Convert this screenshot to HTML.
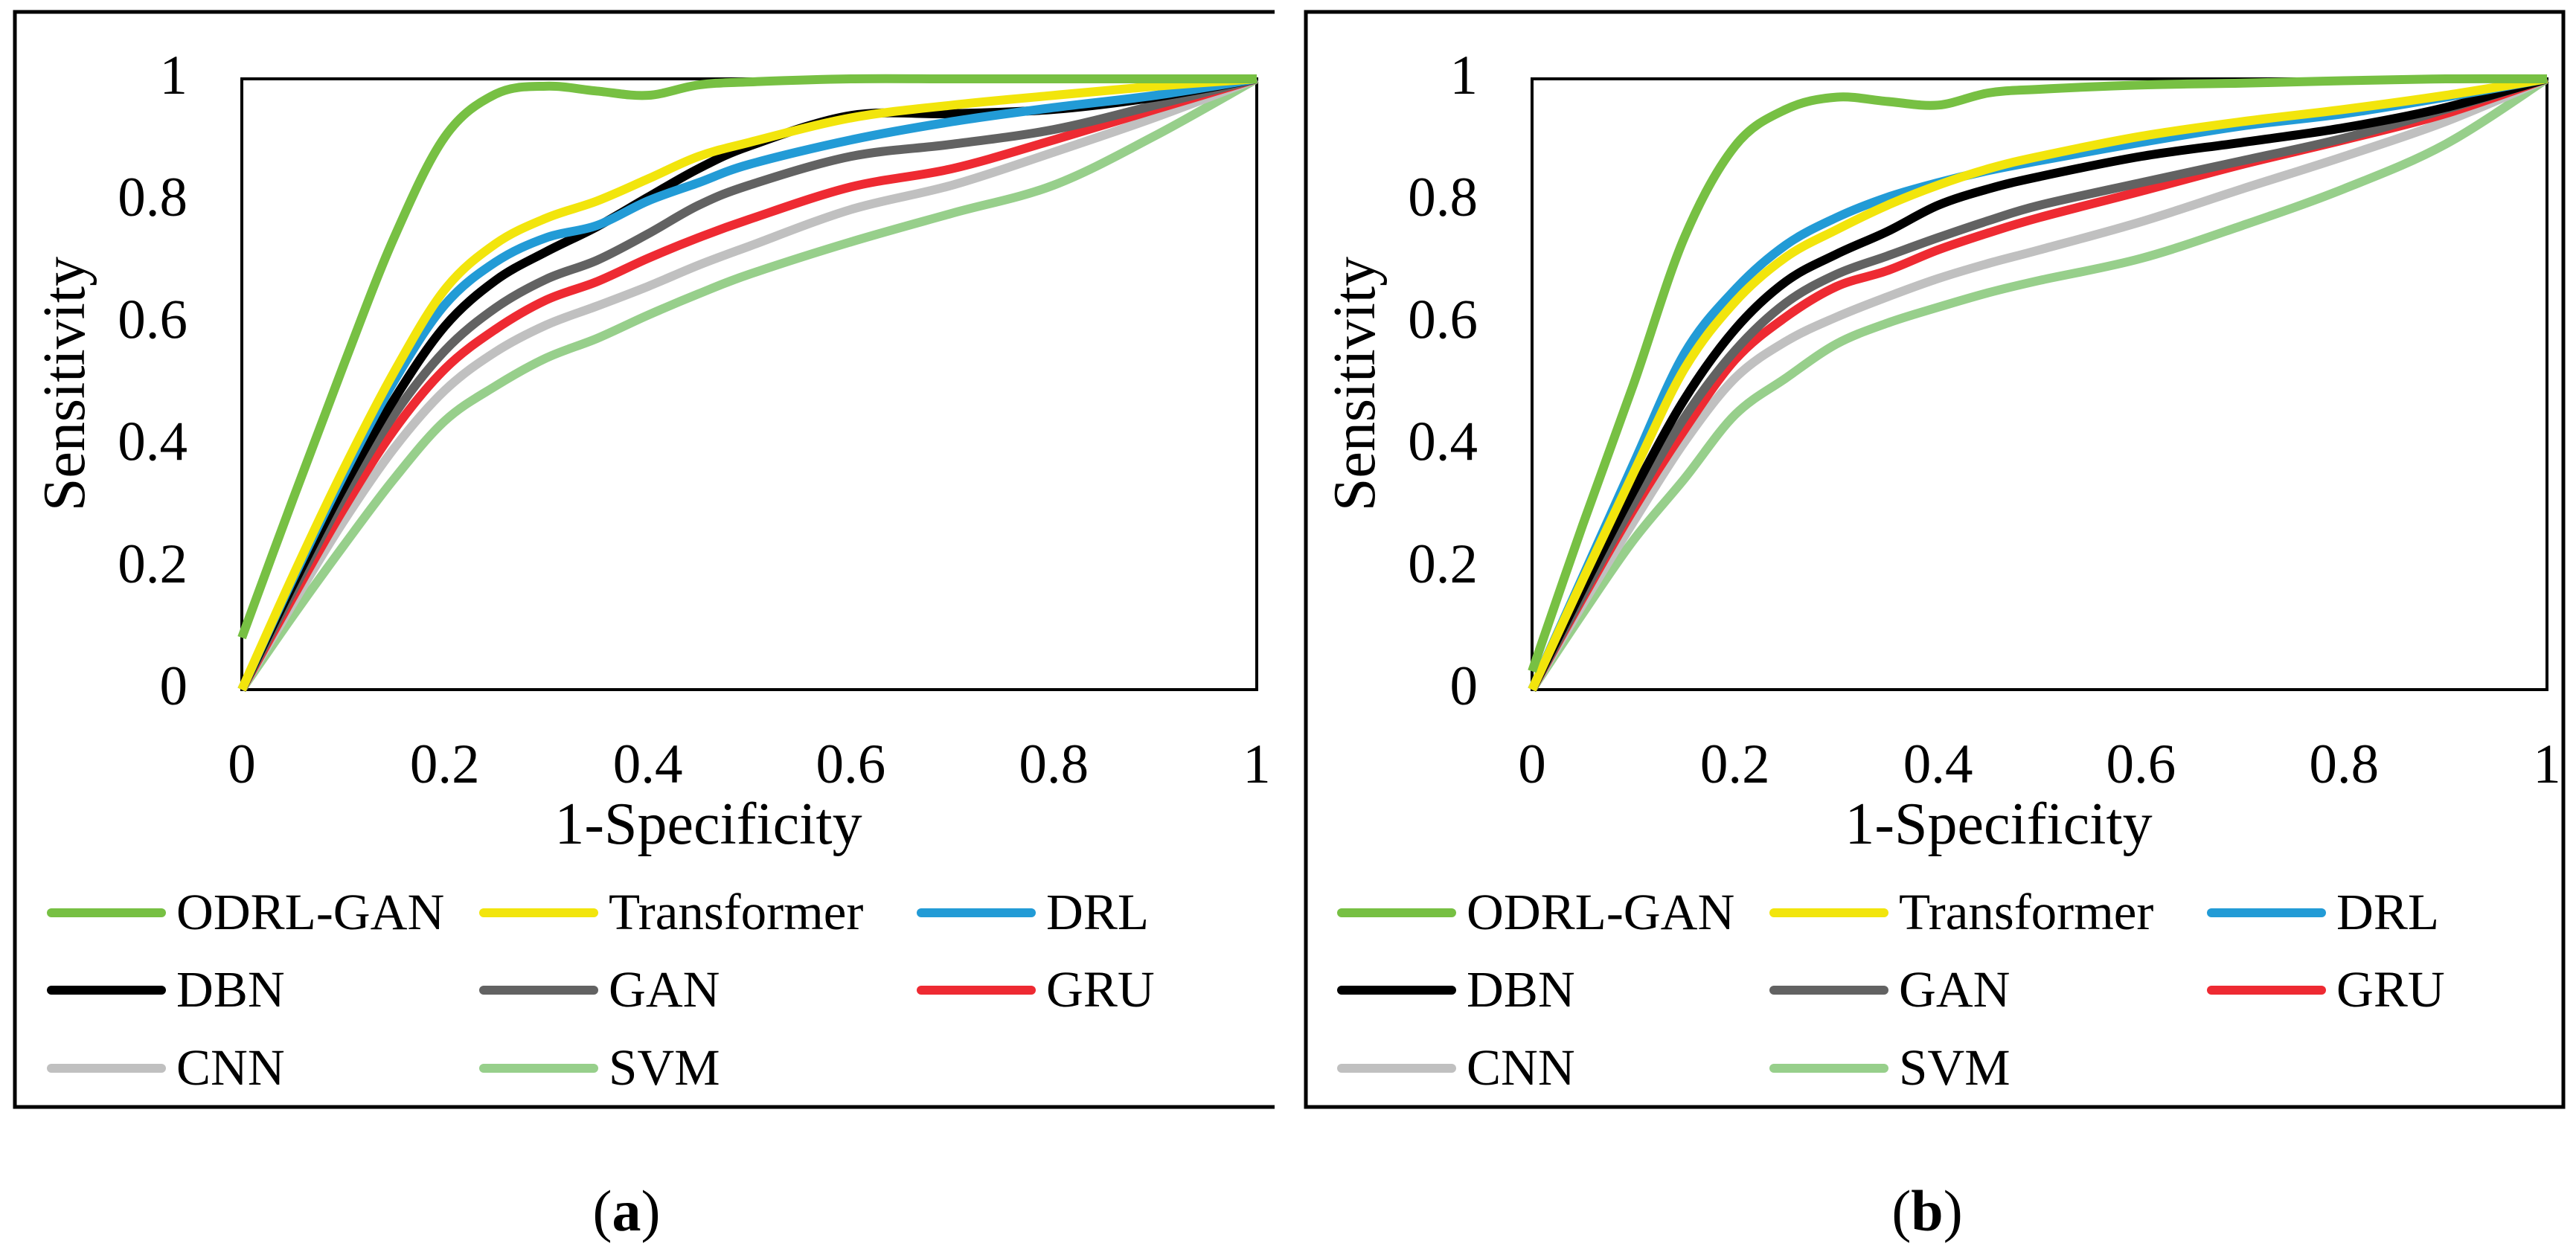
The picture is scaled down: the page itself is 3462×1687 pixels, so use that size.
<!DOCTYPE html>
<html><head><meta charset="utf-8"><style>
html,body{margin:0;padding:0;background:#fff;}
svg{display:block;font-family:"Liberation Serif",serif;}
</style></head><body>
<svg id="fig" width="3462" height="1687" viewBox="0 0 3462 1687" xmlns="http://www.w3.org/2000/svg">
<rect x="0" y="0" width="3462" height="1687" fill="#fff"/>
<path d="M1713,16 H20 V1488 H1713" fill="none" stroke="#000" stroke-width="5"/>
<rect x="1755" y="16" width="1690" height="1472" fill="none" stroke="#000" stroke-width="5"/>
<text x="842" y="1654" font-size="78" text-anchor="middle">(<tspan font-weight="bold">a</tspan>)</text>
<text x="2590" y="1654" font-size="78" text-anchor="middle">(<tspan font-weight="bold">b</tspan>)</text>
</svg>
<script>
const names = ["ODRL-GAN","Transformer","DRL","DBN","GAN","GRU","CNN","SVM"];
const colors = ["#77c043","#f2e50c","#229bd6","#000000","#626262","#ee2a32","#c0c0c0","#97cf8b"];
const xGrid = [0,0.05,0.1,0.15,0.2,0.25,0.3,0.35,0.4,0.45,0.5,0.6,0.7,0.8,0.9,1];
const xTicks = [0,0.2,0.4,0.6,0.8,1];
const yTicks = [0,0.2,0.4,0.6,0.8,1];
const tickLabels = ["0","0.2","0.4","0.6","0.8","1"];
// panel (a)
const aODRL  = [0.085,0.31,0.53,0.74,0.905,0.975,0.988,0.98,0.973,0.99,0.995,1,1,1,1,1];
const aTrans = [0,0.185,0.36,0.52,0.655,0.73,0.772,0.8,0.836,0.873,0.896,0.936,0.957,0.973,0.988,1];
const aDRL   = [0,0.18,0.35,0.505,0.63,0.7,0.74,0.76,0.8,0.83,0.86,0.9,0.93,0.953,0.973,1];
const aDBN   = [0,0.17,0.33,0.475,0.595,0.67,0.717,0.758,0.806,0.853,0.89,0.94,0.943,0.95,0.97,1];
const aGAN   = [0,0.16,0.315,0.45,0.555,0.625,0.672,0.703,0.746,0.793,0.826,0.873,0.893,0.917,0.957,1];
const aGRU   = [0,0.15,0.295,0.425,0.525,0.59,0.638,0.668,0.706,0.74,0.77,0.823,0.853,0.9,0.95,1];
const aCNN   = [0,0.14,0.275,0.395,0.49,0.553,0.597,0.628,0.66,0.695,0.726,0.786,0.826,0.88,0.937,1];
const aSVM   = [0,0.12,0.235,0.345,0.44,0.497,0.543,0.575,0.613,0.648,0.68,0.733,0.78,0.826,0.907,1];
// panel (b)
const bODRL  = [0.03,0.27,0.5,0.74,0.89,0.95,0.97,0.963,0.957,0.977,0.983,0.99,0.993,0.997,1,1];
const bTrans = [0,0.18,0.355,0.525,0.635,0.708,0.753,0.793,0.826,0.853,0.873,0.906,0.93,0.95,0.973,1];
const bDRL   = [0,0.185,0.37,0.55,0.655,0.728,0.773,0.806,0.83,0.85,0.866,0.896,0.923,0.943,0.97,1];
const bDBN   = [0,0.165,0.325,0.475,0.59,0.668,0.713,0.75,0.793,0.82,0.84,0.873,0.896,0.92,0.953,1];
const bGAN   = [0,0.155,0.305,0.445,0.555,0.633,0.68,0.71,0.74,0.768,0.793,0.83,0.866,0.903,0.95,1];
const bGRU   = [0,0.15,0.295,0.425,0.54,0.61,0.66,0.686,0.72,0.748,0.773,0.816,0.86,0.9,0.943,1];
const bCNN   = [0,0.14,0.275,0.405,0.51,0.57,0.61,0.643,0.673,0.698,0.72,0.766,0.82,0.873,0.93,1];
const bSVM   = [0,0.125,0.245,0.345,0.45,0.51,0.566,0.6,0.626,0.65,0.67,0.706,0.76,0.82,0.893,1];

const panelA = [aODRL,aTrans,aDRL,aDBN,aGAN,aGRU,aCNN,aSVM];
const panelB = [bODRL,bTrans,bDRL,bDBN,bGAN,bGRU,bCNN,bSVM];

const NS = "http://www.w3.org/2000/svg";
const svg = document.getElementById("fig");
function mk(tag, attrs, parent){
  const e = document.createElementNS(NS, tag);
  for (const k in attrs) e.setAttribute(k, attrs[k]);
  (parent||svg).appendChild(e);
  return e;
}
function smoothPath(pts){
  let d = "M" + pts[0][0].toFixed(2) + "," + pts[0][1].toFixed(2);
  for (let i = 0; i < pts.length - 1; i++){
    const p0 = pts[Math.max(0,i-1)], p1 = pts[i], p2 = pts[i+1], p3 = pts[Math.min(pts.length-1,i+2)];
    const t = 0.5/3;
    const c1x = p1[0] + (p2[0]-p0[0])*t, c1y = p1[1] + (p2[1]-p0[1])*t;
    const c2x = p2[0] - (p3[0]-p1[0])*t, c2y = p2[1] - (p3[1]-p1[1])*t;
    d += " C" + c1x.toFixed(2)+","+c1y.toFixed(2)+" "+c2x.toFixed(2)+","+c2y.toFixed(2)+" "+p2[0].toFixed(2)+","+p2[1].toFixed(2);
  }
  return d;
}
function drawPanel(key, offX, series){
  const L = 325 + offX, R = 1689 + offX, T = 106, B = 927;
  const xs = v => L + v*(R-L);
  const ys = v => B - v*(B-T);
  const g = mk("g", {});
  
  
  const box = mk("rect", {x:L, y:T, width:R-L, height:B-T, fill:"none", stroke:"#000", "stroke-width":4}, g);
  
  
  for (let s = series.length - 1; s >= 0; s--){
    const vals = series[s];
    const pts = xGrid.map((x,i) => [xs(x), ys(vals[i])]);
    const p = mk("path", {d:smoothPath(pts), fill:"none", stroke:colors[s], "stroke-width":12, "stroke-linejoin":"round", "stroke-linecap":"butt"}, g);
    
    
  }
  yTicks.forEach((v,i) => {
    const t = mk("text", {x:L-73, y:ys(v)+20, "font-size":75, "text-anchor":"end"}, g);
    t.textContent = tickLabels[i];
    
    
  });
  xTicks.forEach((v,i) => {
    const t = mk("text", {x:xs(v), y:1052, "font-size":75, "text-anchor":"middle"}, g);
    t.textContent = tickLabels[i];
    
    
  });
  const xt = mk("text", {x:952+offX, y:1134, "font-size":80, "text-anchor":"middle"}, g);
  xt.textContent = "1-Specificity";
  
  
  const yt = mk("text", {x:0, y:0, "font-size":80, "text-anchor":"middle", transform:"translate(" + (113+offX) + ",516) rotate(-90)"}, g);
  yt.textContent = "Sensitivity";
  
  
  const colX = [63, 644, 1232];
  const rowY = [1227, 1331, 1436];
  names.forEach((n,i) => {
    const cx = colX[i%3] + offX, cy = rowY[Math.floor(i/3)];
    const lg = mk("g", {}, g);
    
    
    mk("line", {x1:cx+6, y1:cy, x2:cx+154, y2:cy, stroke:colors[i], "stroke-width":12, "stroke-linecap":"round"}, lg);
    const t = mk("text", {x:cx+174, y:cy+22, "font-size":69}, lg);
    t.textContent = n;
  });
}
drawPanel("a", 0, panelA);
drawPanel("b", 1734, panelB);
</script>
</body></html>
